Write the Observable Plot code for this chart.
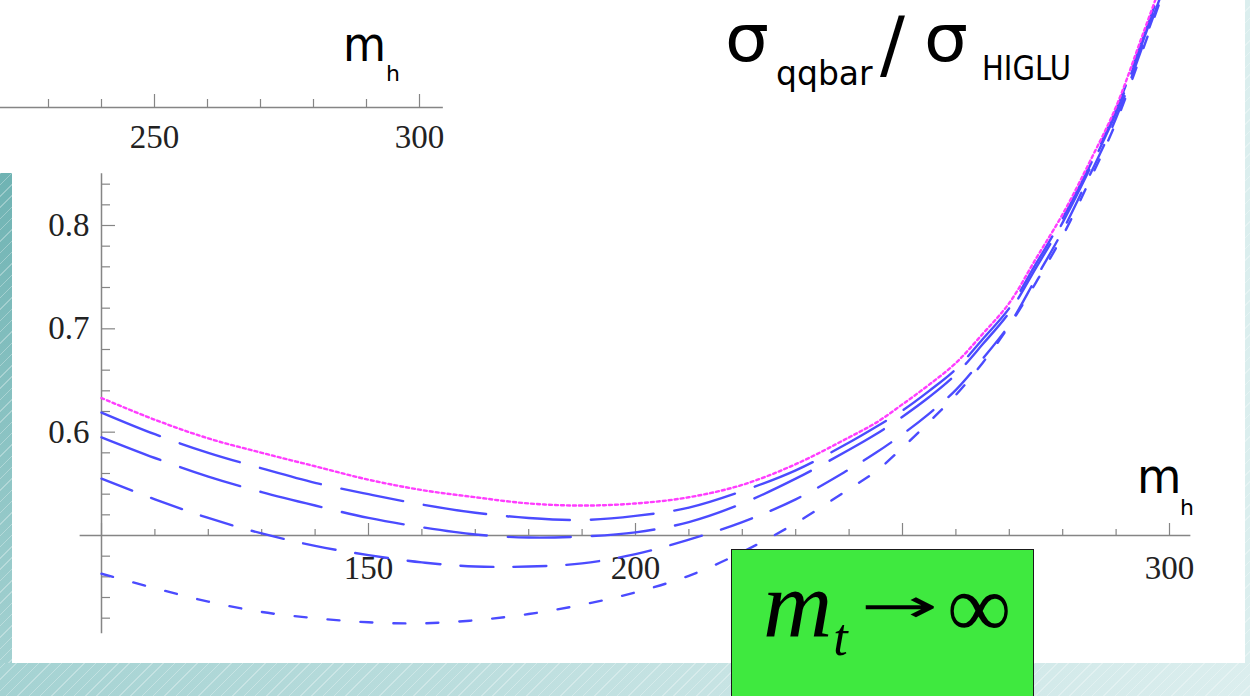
<!DOCTYPE html>
<html>
<head>
<meta charset="utf-8">
<script src="https://cdn.jsdelivr.net/npm/d3@7"></script>
<script src="https://cdn.jsdelivr.net/npm/@observablehq/plot@0.6"></script>
<style>
  html, body { margin: 0; padding: 0; }
  body {
    width: 1250px; height: 696px; overflow: hidden; position: relative;
    background:
      repeating-linear-gradient(135deg, rgba(255,255,255,0.30) 0 1px, rgba(255,255,255,0) 1px 8px),
      linear-gradient(to right, #a4d2d2 0%, #c0e0e0 45%, #dbeeee 100%);
  }
  #stripL {
    position: absolute; left: 0; top: 173px; width: 12px; height: 490px;
    background:
      repeating-linear-gradient(135deg, rgba(255,255,255,0.30) 0 1px, rgba(255,255,255,0) 1px 8px),
      linear-gradient(to bottom, #6fb3b3, #a3d1d1);
  }
  .panel { position: absolute; background: #fff; }
  #chart, #topaxis, #notes { position: absolute; left: 0; top: 0; }
  #mtbox {
    position: absolute; left: 731px; top: 549px; width: 301px; height: 170px;
    background: #3fe93f; border: 1px solid #1a1a1a;
  }
</style>
</head>
<body>
<div class="panel" style="left:0;top:0;width:1245px;height:173px"></div>
<div class="panel" style="left:12px;top:173px;width:1233px;height:490px"></div>
<div id="stripL"></div>
<div id="chart"></div>
<div id="topaxis"></div>
<div id="mtbox"></div>
<div id="notes"></div>
<script>
// Higgs mass grid (GeV)
const mh = [100, 110, 120, 130, 140, 150, 160, 170, 180, 190, 200, 210, 220, 230,
            240, 245, 250, 255, 260, 265, 270, 275, 280, 285, 290, 295, 300];

// sigma_qqbar / sigma_HIGLU: heavy-top limit (dotted) and four finite-mt curves (dashed)
const ratioLimit = [0.633, 0.612, 0.594, 0.580, 0.567, 0.554, 0.544, 0.537, 0.531, 0.529, 0.531, 0.537, 0.549, 0.569,
                    0.595, 0.609, 0.627, 0.646, 0.667, 0.695, 0.725, 0.768, 0.811, 0.861, 0.915, 0.985, 1.056];
const ratioA = [0.619, 0.598, 0.580, 0.565, 0.551, 0.540, 0.530, 0.522, 0.517, 0.515, 0.519, 0.527, 0.543, 0.563,
                0.590, 0.605, 0.621, 0.640, 0.661, 0.690, 0.720, 0.763, 0.807, 0.857, 0.912, 0.981, 1.053];
const ratioB = [0.595, 0.575, 0.557, 0.542, 0.529, 0.517, 0.508, 0.501, 0.498, 0.499, 0.503, 0.513, 0.531, 0.555,
                0.583, 0.598, 0.615, 0.634, 0.656, 0.685, 0.716, 0.759, 0.803, 0.854, 0.909, 0.978, 1.050];
const ratioC = [0.555, 0.535, 0.517, 0.502, 0.490, 0.481, 0.474, 0.470, 0.470, 0.473, 0.482, 0.496, 0.513, 0.535,
                0.564, 0.580, 0.598, 0.618, 0.641, 0.671, 0.704, 0.749, 0.795, 0.848, 0.904, 0.974, 1.046];
const ratioD = [0.463, 0.449, 0.436, 0.426, 0.420, 0.416, 0.415, 0.418, 0.424, 0.433, 0.445, 0.461, 0.484, 0.512,
                0.545, 0.562, 0.585, 0.610, 0.636, 0.667, 0.703, 0.745, 0.790, 0.843, 0.900, 0.970, 1.043];

// axis ticks (the 250 label sits under the label box, so only these are lettered)
const xMinorTicks = [110, 120, 130, 140, 160, 170, 180, 190, 210, 220, 230, 240, 260, 270, 280, 290];
const xMajorTicks = [100, 150, 200, 250, 300];
const xTickLabels = [150, 200, 300];
const yMinorTicks = [0.42, 0.44, 0.46, 0.48, 0.52, 0.54, 0.56, 0.58, 0.62, 0.64, 0.66, 0.68,
                     0.72, 0.74, 0.76, 0.78, 0.82, 0.84];
const yMajorTicks = [0.6, 0.7, 0.8];
const xAxisSpan = [96, 304];
const yAxisSpan = [0.405, 0.85];

// upper panel's mh axis (partly visible)
const topMinorTicks = [230, 240, 260, 270, 280, 290];
const topMajorTicks = [250, 300];
const topAxisSpan = [220.9, 304.5];

const axisGray = "#858585";
const blue = "#4b4bff";
const magenta = "#ff3dff";
const serif = "Liberation Serif, Times New Roman, serif";

const rows = (vals) => mh.map((m, i) => ({mh: m, ratio: vals[i]}));
const curve = (vals, stroke, dash, width) =>
  Plot.line(rows(vals), {x: "mh", y: "ratio", stroke, strokeWidth: width, strokeDasharray: dash,
                         curve: "catmull-rom", clip: true});

const main = Plot.plot({
  width: 1250, height: 696, margin: 0,
  style: {background: "transparent"},
  x: {domain: [100, 300], range: [101, 1169], axis: null},
  y: {domain: [0.5, 0.8], range: [535, 225], axis: null},
  marks: [
    Plot.ruleY([0.5], {x1: xAxisSpan[0], x2: xAxisSpan[1], stroke: axisGray, strokeWidth: 1.5}),
    Plot.ruleX([100], {y1: yAxisSpan[0], y2: yAxisSpan[1], stroke: axisGray, strokeWidth: 1.5}),
    Plot.ruleX(xMinorTicks, {x: d => d, y1: 0.5, y2: 0.5, insetTop: -6, stroke: axisGray, strokeWidth: 1.2}),
    Plot.ruleX(xMajorTicks, {x: d => d, y1: 0.5, y2: 0.5, insetTop: -12, stroke: axisGray, strokeWidth: 1.2}),
    Plot.ruleY(yMinorTicks, {y: d => d, x1: 100, x2: 100, insetRight: -9, stroke: axisGray, strokeWidth: 1.2}),
    Plot.ruleY(yMajorTicks, {y: d => d, x1: 100, x2: 100, insetRight: -14, stroke: axisGray, strokeWidth: 1.2}),
    Plot.text(xTickLabels, {x: d => d, y: 0.5, dy: 33, text: d => String(d),
                            fontFamily: serif, fontSize: 33, fill: "#222"}),
    Plot.text(yMajorTicks, {x: 100, y: d => d, dx: -12, textAnchor: "end", text: d => d.toFixed(1),
                            fontFamily: serif, fontSize: 33, fill: "#222"}),
    curve(ratioD, blue, "12,21", 2.4),
    curve(ratioC, blue, "33,20", 2.4),
    curve(ratioB, blue, "63,21", 2.4),
    curve(ratioA, blue, "63,21", 2.4),
    curve(ratioLimit, magenta, "3,3", 2.4)
  ]
});
document.getElementById("chart").append(main);

const topAxis = Plot.plot({
  width: 460, height: 175, margin: 0,
  style: {background: "transparent"},
  x: {domain: [250, 300], range: [154, 419], axis: null},
  y: {domain: [0, 1], range: [107, 7], axis: null},
  marks: [
    Plot.ruleY([0], {x1: topAxisSpan[0], x2: topAxisSpan[1], stroke: axisGray, strokeWidth: 1.5}),
    Plot.ruleX(topMinorTicks, {x: d => d, y1: 0, y2: 0, insetTop: -8, stroke: axisGray, strokeWidth: 1.2}),
    Plot.ruleX(topMajorTicks, {x: d => d, y1: 0, y2: 0, insetTop: -13, stroke: axisGray, strokeWidth: 1.2}),
    Plot.text(topMajorTicks, {x: d => d, y: 0, dy: 30, text: d => String(d),
                              fontFamily: serif, fontSize: 33, fill: "#222"})
  ]
});
document.getElementById("topaxis").append(topAxis);

// slide annotations: axis names, ratio title, heavy-top label
const notes = d3.create("svg").attr("width", 1250).attr("height", 696);
const put = (x, y, str, size, opts = {}) => {
  const t = notes.append("text")
    .attr("transform", `translate(${x},${y}) scale(${opts.sx || 1},${opts.sy || 1})`)
    .attr("font-family", opts.family || "DejaVu Sans, Verdana, sans-serif")
    .attr("font-style", opts.italic ? "italic" : "normal")
    .attr("font-size", size)
    .attr("fill", "#000")
    .text(str);
  return t;
};
put(343, 61, "m", 48, {sx: 0.92});
put(386, 81, "h", 22);
put(1137, 493, "m", 48, {sx: 0.95});
put(1180, 515, "h", 22);
put(725, 61, "σ", 66, {sx: 1.05});
put(776, 85, "qqbar", 33);
put(880, 70, "/", 74);
put(924, 61, "σ", 66, {sx: 1.05});
put(982, 80, "HIGLU", 33, {sx: 0.88});
put(763, 637, "m", 96, {family: serif, italic: true})
  .append("tspan").attr("font-size", 52).attr("dx", 1).attr("dy", 18).text("t");
put(860, 622, "→", 93, {sy: 0.5});
put(947, 637, "∞", 90, {family: serif});
document.getElementById("notes").append(notes.node());
</script>
</body>
</html>
